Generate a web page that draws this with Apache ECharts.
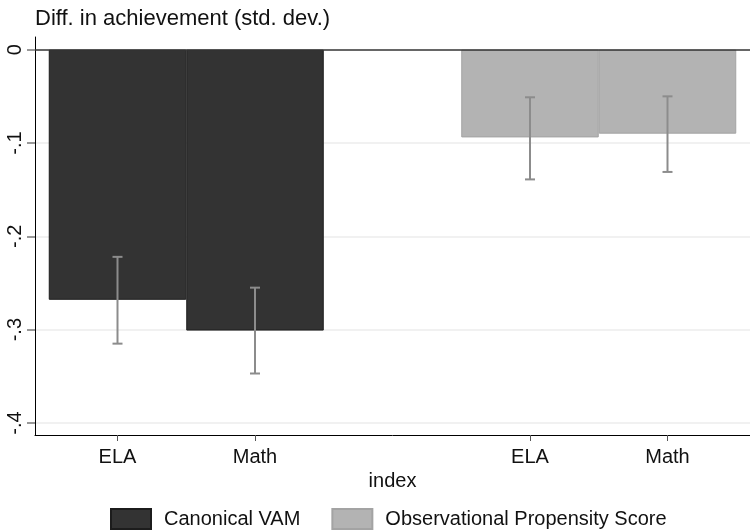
<!DOCTYPE html>
<html>
<head>
<meta charset="utf-8">
<script src="https://cdn.jsdelivr.net/npm/echarts@6/dist/echarts.min.js"></script>
<style>html,body{margin:0;padding:0;background:#fff}#c{width:750px;height:531px}</style>
</head>
<body>
<div id="c"></div>
<script>
// ---- data ----
var categories = ["ELA", "Math", "ELA", "Math"];
var positions = [0, 1, 3, 4];
var vamValues = [-0.268, -0.301];
var vamLow = [-0.315, -0.347];
var vamHigh = [-0.222, -0.255];
var opsValues = [-0.094, -0.090];
var opsLow = [-0.139, -0.131];
var opsHigh = [-0.051, -0.050];
var yTickValues = [0, -0.1, -0.2, -0.3, -0.4];
var yTickLabels = ["0", "-.1", "-.2", "-.3", "-.4"];
var seriesNames = ["Canonical VAM", "Observational Propensity Score"];

var FONT = "Liberation Sans, Arial, sans-serif";
var vamData = vamValues.map(function (v, i) { return [positions[i], v]; });
var opsData = opsValues.map(function (v, i) { return [positions[i + 2], v]; });
var errData = [];
vamLow.forEach(function (l, i) { errData.push([positions[i], l, vamHigh[i]]); });
opsLow.forEach(function (l, i) { errData.push([positions[i + 2], l, opsHigh[i]]); });

var chart = echarts.init(document.getElementById('c'), null, { renderer: 'canvas' });
chart.setOption({
  animation: false,
  backgroundColor: '#ffffff',
  textStyle: { fontFamily: FONT },
  title: {
    text: 'Diff. in achievement (std. dev.)',
    left: 30, top: 3,
    textStyle: { fontFamily: FONT, fontSize: 22, fontWeight: 'normal', color: '#111' }
  },
  legend: {
    bottom: -4, left: 105, padding: [5, 5, 5, 5],
    itemWidth: 40, itemHeight: 20, itemGap: 31,
    icon: 'rect',
    textStyle: { fontFamily: FONT, fontSize: 20, color: '#111', padding: [0, 0, 0, 8] },
    data: seriesNames
  },
  grid: { left: 35, right: 0, top: 37, bottom: 96, containLabel: false },
  xAxis: {
    type: 'value', min: -0.6, max: 4.6,
    name: 'index', nameLocation: 'middle', nameGap: 34,
    nameTextStyle: { fontFamily: FONT, fontSize: 20, color: '#111' },
    axisLine: { show: true, onZero: false, lineStyle: { color: '#000', width: 1 } },
    axisTick: { show: true, length: 6, customValues: positions, lineStyle: { color: '#555' } },
    axisLabel: {
      customValues: positions, margin: 12, fontFamily: FONT, fontSize: 20, color: '#111',
      formatter: function (v) { var i = positions.indexOf(v); return i >= 0 ? categories[i] : ''; }
    },
    splitLine: { show: false }
  },
  yAxis: {
    type: 'value', min: -0.4129, max: 0.0136,
    axisLine: { show: true, onZero: false, lineStyle: { color: '#000', width: 1 } },
    axisTick: { show: true, length: 8, customValues: yTickValues, lineStyle: { color: '#777', width: 1.5 } },
    axisLabel: {
      customValues: yTickValues, rotate: 90, margin: 10, fontFamily: FONT, fontSize: 20, color: '#111',
      formatter: function (v) {
        var i = -1;
        yTickValues.forEach(function (t, k) { if (Math.abs(t - v) < 1e-9) i = k; });
        return i >= 0 ? yTickLabels[i] : '';
      }
    },
    splitLine: { show: false }
  },
  series: [
    {
      type: 'line', data: [], silent: true, z: 0,
      markLine: {
        silent: true, symbol: 'none', label: { show: false }, z: 0,
        lineStyle: { color: '#ececec', width: 1.5, type: 'solid' },
        data: yTickValues.slice(1).map(function (v) { return { yAxis: v }; })
      }
    },
    {
      name: seriesNames[0], type: 'bar', data: vamData, barWidth: 137.5, barGap: '-100%', z: 2,
      itemStyle: { color: '#333333', borderColor: '#1c1c1c', borderWidth: 1 }
    },
    {
      name: seriesNames[1], type: 'bar', data: opsData, barWidth: 137.5, barGap: '-100%', z: 2,
      itemStyle: { color: '#b3b3b3', borderColor: '#a3a3a3', borderWidth: 1 },
      markLine: {
        silent: true, symbol: 'none', label: { show: false }, z: 5,
        lineStyle: { color: '#333', width: 1.5, type: 'solid' },
        data: [{ yAxis: 0 }]
      }
    },
    {
      type: 'custom', z: 4, silent: true,
      data: errData,
      renderItem: function (params, api) {
        var x = api.value(0);
        var lo = api.coord([x, api.value(1)]);
        var hi = api.coord([x, api.value(2)]);
        var c = 5;
        var st = { stroke: '#8c8c8c', lineWidth: 2 };
        return {
          type: 'group',
          children: [
            { type: 'line', shape: { x1: lo[0], y1: lo[1], x2: hi[0], y2: hi[1] }, style: st },
            { type: 'line', shape: { x1: lo[0] - c, y1: lo[1], x2: lo[0] + c, y2: lo[1] }, style: st },
            { type: 'line', shape: { x1: hi[0] - c, y1: hi[1], x2: hi[0] + c, y2: hi[1] }, style: st }
          ]
        };
      }
    }
  ]
});
</script>
</body>
</html>
